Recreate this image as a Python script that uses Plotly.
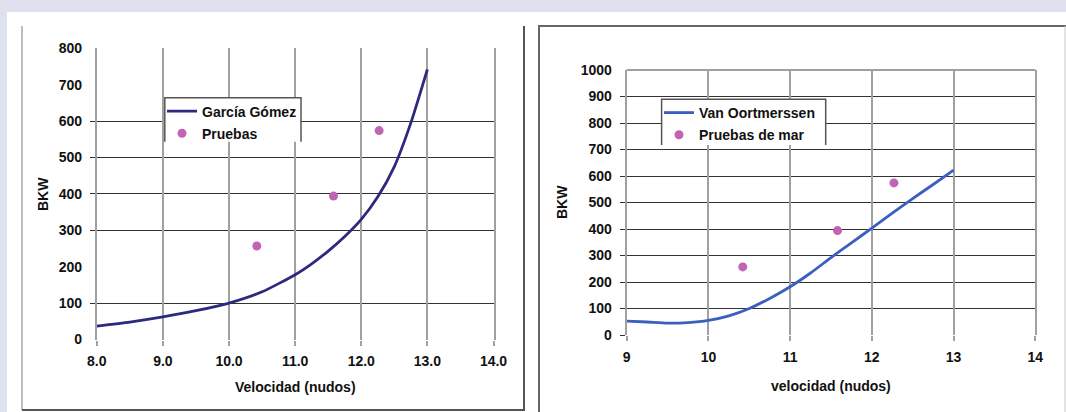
import plotly.graph_objects as go

# ---- data -------------------------------------------------------------
# García Gómez prediction (BKW vs speed in knots)
gg_speed = [8.0, 8.5, 9.0, 9.5, 10.0, 10.5, 11.0, 11.25, 11.5, 11.75, 12.0, 12.25, 12.5, 12.75, 13.0]
gg_bkw = [37, 48, 62, 79, 100, 131, 178, 208, 243, 283, 330, 392, 475, 595, 742]

# Van Oortmerssen prediction
vo_speed = [9.0, 9.25, 9.5, 9.75, 10.0, 10.25, 10.5, 10.75, 11.0, 11.25, 11.5, 11.75,
            12.0, 12.25, 12.5, 12.75, 13.0]
vo_bkw = [52, 49, 45, 47, 55, 72, 100, 138, 182, 234, 292, 348, 403, 460, 515, 568, 622]

# Sea trial measurements
trial_speed = [10.42, 11.58, 12.27]
trial_bkw = [257, 394, 574]

left_xticks = [8, 9, 10, 11, 12, 13, 14]
left_yticks = [0, 100, 200, 300, 400, 500, 600, 700, 800]
left_ygrid = [100, 300, 400, 500, 600]
right_xticks = [9, 10, 11, 12, 13, 14]
right_yticks = [0, 100, 200, 300, 400, 500, 600, 700, 800, 900, 1000]
right_ygrid = [0, 100, 200, 300, 400, 500, 600, 700, 800, 900]

# ---- styling ----------------------------------------------------------
W, H = 1066, 412
FONT = "Liberation Sans, Arial, sans-serif"
INK = "#111111"
GRID_V = "#a0a0a0"
GRID_H = "#333333"
NAVY = "#2d2a7e"
BLUE = "#3b5fbf"
ORCHID = "#c264b6"
LAVENDER = "#dfe1ef"


def px(x):
    return x / W


def py(y):
    return 1 - y / H


tickfont = dict(family=FONT, size=14, color=INK, weight="bold")

fig = go.Figure()

fig.add_trace(go.Scatter(
    x=gg_speed, y=gg_bkw, mode="lines", name="García Gómez",
    line=dict(color=NAVY, width=2.8, shape="spline", smoothing=0.6),
    xaxis="x", yaxis="y", legend="legend", legendgroup="a"))
fig.add_trace(go.Scatter(
    x=trial_speed, y=trial_bkw, mode="markers", name="Pruebas",
    marker=dict(color=ORCHID, size=9), xaxis="x", yaxis="y",
    legend="legend", legendgroup="b"))

fig.add_trace(go.Scatter(
    x=vo_speed, y=vo_bkw, mode="lines", name="Van Oortmerssen",
    line=dict(color=BLUE, width=2.8, shape="spline", smoothing=0.6),
    xaxis="x2", yaxis="y2", legend="legend2", legendgroup="c"))
fig.add_trace(go.Scatter(
    x=trial_speed, y=trial_bkw, mode="markers", name="Pruebas de mar",
    marker=dict(color=ORCHID, size=9), xaxis="x2", yaxis="y2",
    legend="legend2", legendgroup="d"))

L_dom_x = [px(96.8), px(493.5)]
L_dom_y = [py(339.5), py(48.3)]
R_dom_x = [px(626.7), px(1035.3)]
R_dom_y = [py(335), py(70)]

common_x = dict(showgrid=True, gridcolor=GRID_V, gridwidth=2, ticks="outside",
                ticklen=5, tickwidth=2, tickcolor=GRID_V, zeroline=False,
                showline=False, tickfont=tickfont, automargin=False,
                ticklabelstandoff=4)


def y_axis(domain, rng, labels, grid, anchor):
    # labels on the major ticks; the drawn horizontal rules use minor ticks;
    # the axis line (mirrored) gives the grey verticals at both range ends
    return dict(domain=domain, range=rng, tickmode="array", tickvals=labels,
                showgrid=False, zeroline=False, ticks="", tickfont=tickfont,
                anchor=anchor, automargin=False, ticklabelstandoff=10,
                showline=True, mirror=True, linecolor=GRID_V, linewidth=2,
                minor=dict(tickmode="array", tickvals=grid, showgrid=True,
                           gridcolor=GRID_H, gridwidth=1.2, ticks="outside",
                           ticklen=5, tickcolor=GRID_H, tickwidth=1.2))


fig.update_layout(
    xaxis=dict(domain=L_dom_x, range=[8, 14], tickmode="array",
               tickvals=left_xticks, tickformat=".1f", anchor="y", **common_x),
    yaxis=y_axis(L_dom_y, [0, 800], left_yticks, left_ygrid, "x"),
    xaxis2=dict(domain=R_dom_x, range=[9, 14], tickmode="array",
                tickvals=right_xticks, anchor="y2", **common_x),
    yaxis2=y_axis(R_dom_y, [-0.01, 1000.01], right_yticks, right_ygrid, "x2"),
)

legend_font = dict(family=FONT, size=14, color=INK, weight="bold")
fig.update_layout(
    legend=dict(x=px(162), y=py(95.5), xanchor="left", yanchor="top",
                bgcolor="rgba(0,0,0,0)", borderwidth=0, font=legend_font,
                tracegroupgap=1, itemclick=False),
    legend2=dict(x=px(659), y=py(97), xanchor="left", yanchor="top",
                 bgcolor="rgba(0,0,0,0)", borderwidth=0, font=legend_font,
                 tracegroupgap=1, itemclick=False),
)

shapes = [
    # white page area over the lavender surround
    dict(type="rect", xref="paper", yref="paper", x0=px(7), x1=1, y0=0, y1=py(12),
         fillcolor="white", line_width=0, layer="below"),
    # top rule of the right plot area
    dict(type="line", xref="x2 domain", yref="y2 domain", x0=0, x1=1, y0=1, y1=1,
         line=dict(color=GRID_V, width=2), layer="below"),
    # left panel frame (left, bottom, right)
    dict(type="path", xref="paper", yref="paper",
         path=f"M{px(22)},{py(26)} L{px(22)},{py(410)}",
         line=dict(color="#a8a8a8", width=1.5)),
    dict(type="path", xref="paper", yref="paper",
         path=f"M{px(22)},{py(410)} L{px(524)},{py(410)} L{px(524)},{py(26)}",
         line=dict(color="#555555", width=2)),
    # right panel frame
    dict(type="path", xref="paper", yref="paper",
         path=f"M{px(539)},{py(412)} L{px(539)},{py(26)} L{px(1066)},{py(26)}",
         line=dict(color="#666666", width=2)),
    dict(type="line", xref="paper", yref="paper", x0=px(1065), x1=px(1065),
         y0=py(26), y1=0, line=dict(color="#c8c8c8", width=1)),
    # legend boxes
    dict(type="rect", xref="paper", yref="paper", x0=px(164.8), x1=px(301),
         y0=py(141.7), y1=py(97.7), fillcolor="white", line_width=0, layer="above"),
    dict(type="path", xref="paper", yref="paper",
         path=f"M{px(164.8)},{py(141.7)} L{px(164.8)},{py(97.7)} L{px(301)},{py(97.7)} L{px(301)},{py(141.7)}",
         line=dict(color="#555555", width=1.5), layer="above"),
    dict(type="rect", xref="paper", yref="paper", x0=px(661.6), x1=px(825.7),
         y0=py(145), y1=py(99.3), fillcolor="white", line_width=0, layer="above"),
    dict(type="path", xref="paper", yref="paper",
         path=f"M{px(661.6)},{py(145)} L{px(661.6)},{py(99.3)} L{px(825.7)},{py(99.3)} L{px(825.7)},{py(145)}",
         line=dict(color="#555555", width=1.5), layer="above"),
]

title_font = dict(family=FONT, size=14, color=INK, weight="bold")
annotations = [
    dict(text="Velocidad (nudos)", x=px(295), y=py(387), xref="paper", yref="paper",
         showarrow=False, font=title_font, xanchor="center", yanchor="middle"),
    dict(text="BKW", x=px(43), y=py(194), xref="paper", yref="paper", textangle=-90,
         showarrow=False, font=title_font, xanchor="center", yanchor="middle"),
    dict(text="velocidad (nudos)", x=px(831), y=py(386), xref="paper", yref="paper",
         showarrow=False, font=title_font, xanchor="center", yanchor="middle"),
    dict(text="BKW", x=px(562), y=py(202), xref="paper", yref="paper", textangle=-90,
         showarrow=False, font=title_font, xanchor="center", yanchor="middle"),
]

fig.update_layout(
    width=W, height=H, margin=dict(l=0, r=0, t=0, b=0),
    paper_bgcolor=LAVENDER, plot_bgcolor="white",
    shapes=shapes, annotations=annotations, showlegend=True,
    font=dict(family=FONT, color=INK),
)

fig.write_html("out.html")
